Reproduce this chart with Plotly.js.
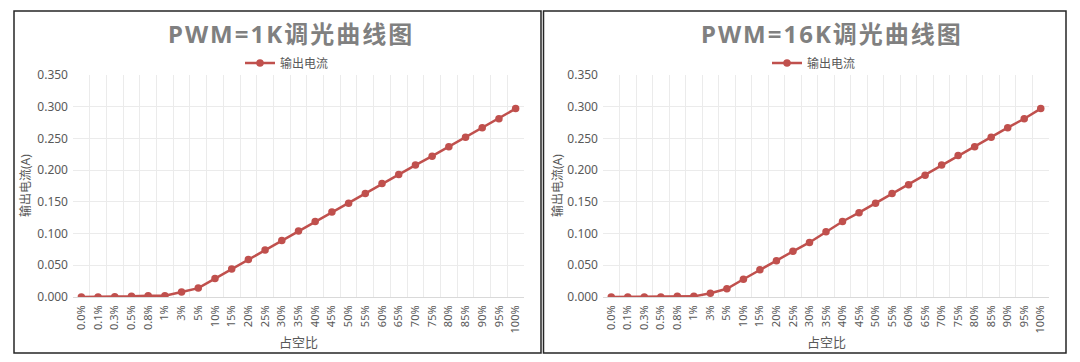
<!DOCTYPE html>
<html>
<head>
<meta charset="utf-8">
<script src="https://cdn.plot.ly/plotly-3.0.1.min.js"></script>
<style>
  html, body { margin: 0; padding: 0; background: #ffffff; }
  #chart { width: 1080px; height: 362px; }
  .annotation-text.chart-title { letter-spacing: 2px; }
</style>
</head>
<body>
<div id="chart"></div>
<script>
// ---- data ----
const categories = ['0.0%','0.1%','0.3%','0.5%','0.8%','1%','3%','5%','10%','15%','20%','25%','30%','35%','40%','45%','50%','55%','60%','65%','70%','75%','80%','85%','90%','95%','100%'];
const current1K  = [0.000,0.000,0.0005,0.001,0.002,0.002,0.008,0.014,0.029,0.044,0.059,0.074,0.089,0.104,0.119,0.134,0.148,0.163,0.179,0.193,0.208,0.222,0.237,0.252,0.267,0.281,0.297];
const current16K = [0.000,0.000,0.000,0.000,0.001,0.001,0.006,0.013,0.028,0.043,0.057,0.072,0.086,0.103,0.119,0.133,0.148,0.163,0.177,0.192,0.208,0.223,0.237,0.252,0.267,0.281,0.297];
const seriesName = '输出电流';
const title1K = 'PWM=1K调光曲线图';
const title16K = 'PWM=16K调光曲线图';
const xTitle = '占空比';
const yTitle = '输出电流(A)';

// ---- layout helpers ----
const W = 1080, H = 362;
const px = v => v / W;
const py = v => 1 - v / H;

const FONT = 'Noto Sans, Noto Sans CJK SC, sans-serif';
const LINE_COLOR = '#c0504d';
const TXT = '#595959';
const GRID = '#ebebeb';

function makeTrace(y, xa, ya, legendId) {
  return {
    x: categories, y: y, type: 'scatter', mode: 'lines+markers',
    name: seriesName, xaxis: xa, yaxis: ya, legend: legendId,
    line: { color: LINE_COLOR, width: 2.5 },
    marker: { color: LINE_COLOR, size: 7.5, symbol: 'circle' },
    hoverinfo: 'x+y'
  };
}

function xAxis(domain, anchor) {
  return {
    domain: domain, anchor: anchor, type: 'category',
    categoryorder: 'array', categoryarray: categories,
    range: [-0.5, categories.length - 0.5],
    tickson: 'boundaries', ticks: '', showgrid: true, gridcolor: GRID, gridwidth: 1,
    showline: true, linecolor: '#d9d9d9', linewidth: 1,
    tickangle: -90, tickfont: { family: FONT, size: 11, color: TXT },
    ticklabelstandoff: 3, zeroline: false, fixedrange: true
  };
}
function yAxis(domain, anchor) {
  return {
    domain: domain, anchor: anchor, range: [0, 0.35], dtick: 0.05, tick0: 0,
    tickformat: '.3f', ticks: '', showgrid: true, gridcolor: GRID, gridwidth: 1,
    showline: false, zeroline: false,
    tickfont: { family: FONT, size: 12, color: TXT }, ticklabelstandoff: 4,
    fixedrange: true
  };
}

const yDom = [1 - 297 / H, 1 - 75 / H];

const layout = {
  width: W, height: H,
  margin: { l: 0, r: 0, t: 0, b: 0 },
  paper_bgcolor: '#ffffff', plot_bgcolor: '#ffffff',
  font: { family: FONT, color: TXT },
  xaxis: xAxis([px(73), px(524)], 'y'),
  yaxis: yAxis(yDom, 'x'),
  xaxis2: xAxis([px(603), px(1049)], 'y2'),
  yaxis2: yAxis(yDom, 'x2'),
  showlegend: true,
  legend: {
    orientation: 'h', x: px(287), xanchor: 'center', y: py(63), yanchor: 'middle',
    font: { family: FONT, size: 12, color: TXT }, bgcolor: 'rgba(0,0,0,0)', itemwidth: 30
  },
  legend2: {
    orientation: 'h', x: px(814), xanchor: 'center', y: py(63), yanchor: 'middle',
    font: { family: FONT, size: 12, color: TXT }, bgcolor: 'rgba(0,0,0,0)', itemwidth: 30
  },
  shapes: [
    { type: 'rect', xref: 'paper', yref: 'paper', x0: px(14), x1: px(541), y0: py(353), y1: py(11),
      line: { color: '#262626', width: 1.5 } },
    { type: 'rect', xref: 'paper', yref: 'paper', x0: px(543.5), x1: px(1066), y0: py(353), y1: py(11),
      line: { color: '#262626', width: 1.5 } }
  ],
  annotations: [
    { text: title1K, xref: 'paper', yref: 'paper', x: px(291), y: py(34), xanchor: 'center', yanchor: 'middle',
      showarrow: false, font: { family: FONT, size: 24, color: '#808080', weight: 'bold' } },
    { text: title16K, xref: 'paper', yref: 'paper', x: px(832), y: py(34), xanchor: 'center', yanchor: 'middle',
      showarrow: false, font: { family: FONT, size: 24, color: '#808080', weight: 'bold' } },
    { text: xTitle, xref: 'paper', yref: 'paper', x: px(298), y: py(342), xanchor: 'center', yanchor: 'middle',
      showarrow: false, font: { family: FONT, size: 13, color: TXT } },
    { text: xTitle, xref: 'paper', yref: 'paper', x: px(826), y: py(342), xanchor: 'center', yanchor: 'middle',
      showarrow: false, font: { family: FONT, size: 13, color: TXT } },
    { text: yTitle, xref: 'paper', yref: 'paper', x: px(25), y: py(186), xanchor: 'center', yanchor: 'middle',
      textangle: -90, showarrow: false, font: { family: FONT, size: 12, color: TXT } },
    { text: yTitle, xref: 'paper', yref: 'paper', x: px(557), y: py(186), xanchor: 'center', yanchor: 'middle',
      textangle: -90, showarrow: false, font: { family: FONT, size: 12, color: TXT } }
  ]
};

const data = [
  makeTrace(current1K, 'x', 'y', 'legend'),
  makeTrace(current16K, 'x2', 'y2', 'legend2')
];

Plotly.newPlot('chart', data, layout, { displayModeBar: false, staticPlot: true }).then(() => {
  document.querySelectorAll('.annotation-text').forEach(t => {
    if (t.textContent.indexOf('PWM') === 0) t.style.letterSpacing = '2px';
  });
});
</script>
</body>
</html>
